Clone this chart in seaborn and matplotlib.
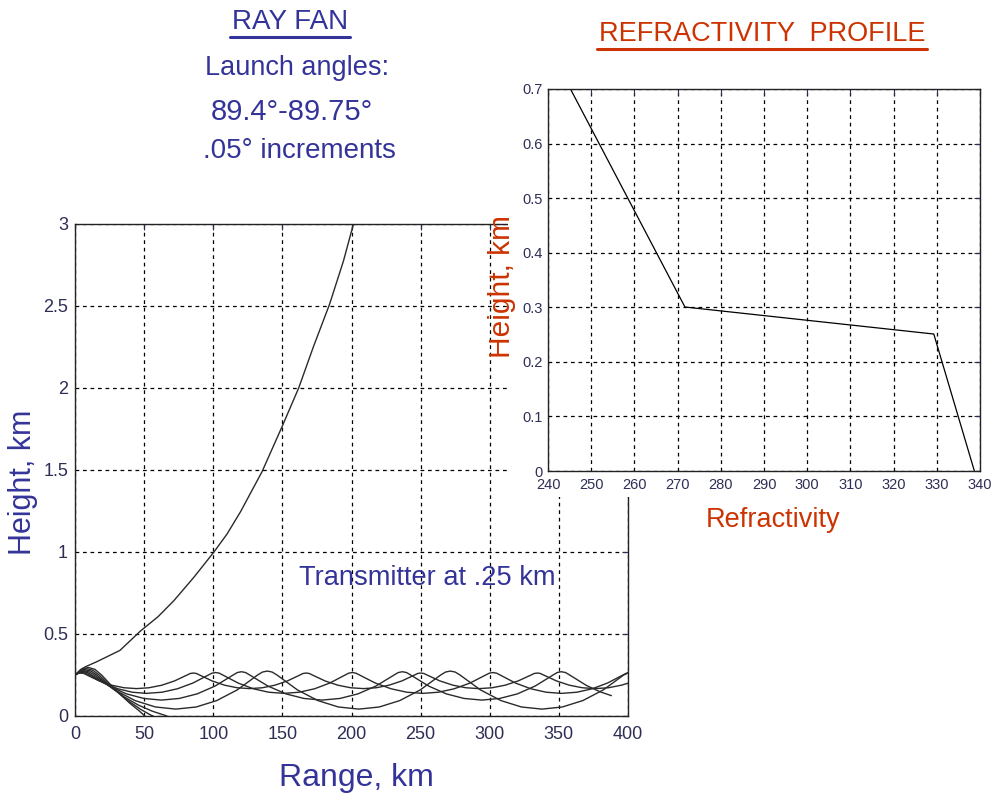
import matplotlib
matplotlib.use("Agg")
import matplotlib.pyplot as plt
from matplotlib.patches import Rectangle
from matplotlib.lines import Line2D
import seaborn as sns
import pandas as pd

# ---------------- data ----------------
# Ray fan (range km, height km), one list per launch angle
ray_escape_x = [0, 4, 7.5, 16, 32.5, 47.6, 60, 71.6, 86.1, 100.5, 110, 119.7, 135.3, 149.8, 161.8, 172.6, 184.1, 194.2, 201.4, 203]
ray_escape_y = [0.25, 0.283, 0.30, 0.332, 0.40, 0.52, 0.605, 0.704, 0.847, 1.0, 1.11, 1.245, 1.49, 1.765, 2.0, 2.255, 2.51, 2.775, 3.0, 3.05]

ray_g3_x = [0, 4.8, 9.6, 14.4, 19.2, 29.2, 39.2, 46.2, 50.5]
ray_g3_y = [0.25, 0.2845, 0.296, 0.2845, 0.25, 0.160, 0.081, 0.033, 0.0]
ray_g2_x = [0, 4.35, 8.7, 13.05, 17.4, 27.4, 37.4, 47.4, 54.9, 56.5]
ray_g2_y = [0.25, 0.2785, 0.288, 0.2785, 0.25, 0.169, 0.099, 0.041, 0.005, 0.0]
ray_g1_x = [0, 3.9, 7.8, 11.8, 15.7, 25.7, 35.7, 45.7, 55.7, 66.5]
ray_g1_y = [0.25, 0.273, 0.281, 0.273, 0.25, 0.177, 0.116, 0.067, 0.030, 0.0]

ray_d_x = [0, 3.5, 7, 10.5, 14, 28.7, 43.45, 58.2, 72.9, 87.7, 102.5, 117.3, 132.1, 135.6, 139.1, 142.6, 146.1,
           160.9, 175.7, 190.5, 205.3, 220.1, 234.9, 249.7, 264.5, 268.0, 271.5, 275.0, 278.5,
           293.3, 308.1, 322.9, 337.7, 352.5, 367.3, 382.1, 396.9, 400]
ray_d_y = [0.25, 0.268, 0.274, 0.268, 0.25, 0.159, 0.094, 0.055, 0.042, 0.055, 0.094, 0.159, 0.25, 0.268, 0.274, 0.268, 0.25,
           0.159, 0.094, 0.055, 0.042, 0.055, 0.094, 0.159, 0.25, 0.268, 0.274, 0.268, 0.25,
           0.159, 0.094, 0.055, 0.042, 0.055, 0.094, 0.159, 0.25, 0.262]

ray_c_x = [0, 3, 6, 9, 12, 24.6, 37.2, 49.8, 62.4, 75.4, 88.4, 101.4, 114.4, 117.4, 120.4, 123.4, 126.4,
           139.45, 152.5, 165.55, 178.6, 191.65, 204.7, 217.75, 230.8, 233.8, 236.8, 239.8, 242.8,
           255.7, 268.55, 281.4, 294.3, 307.2, 320.05, 332.9, 345.8, 348.8, 351.8, 354.8, 357.8,
           370, 380, 388]
ray_c_y = [0.25, 0.265, 0.27, 0.265, 0.25, 0.183, 0.135, 0.107, 0.097, 0.107, 0.135, 0.183, 0.25, 0.265, 0.27, 0.265, 0.25,
           0.183, 0.135, 0.107, 0.097, 0.107, 0.135, 0.183, 0.25, 0.265, 0.27, 0.265, 0.25,
           0.183, 0.135, 0.107, 0.097, 0.107, 0.135, 0.183, 0.25, 0.265, 0.27, 0.265, 0.25,
           0.186, 0.147, 0.124]

ray_b_x = [0, 2.6, 5.2, 7.8, 10.4, 20.7, 31.05, 41.4, 51.7, 62.9, 74.1, 85.3, 96.5, 99.1, 101.7, 104.3, 106.9,
           118.0, 129.0, 140.1, 151.15, 162.2, 173.3, 184.3, 195.4, 198.0, 200.6, 203.2, 205.8,
           217.2, 228.6, 240.0, 251.45, 262.9, 274.3, 285.7, 297.1, 299.7, 302.3, 304.9, 307.5,
           318.6, 329.7, 340.8, 351.9, 363.0, 374.1, 385.2, 396.3, 398.9, 400]
ray_b_y = [0.25, 0.2613, 0.265, 0.2613, 0.25, 0.201, 0.166, 0.145, 0.138, 0.145, 0.166, 0.201, 0.25, 0.2613, 0.265, 0.2613, 0.25,
           0.201, 0.166, 0.145, 0.138, 0.145, 0.166, 0.201, 0.25, 0.2613, 0.265, 0.2613, 0.25,
           0.201, 0.166, 0.145, 0.138, 0.145, 0.166, 0.201, 0.25, 0.2613, 0.265, 0.2613, 0.25,
           0.201, 0.166, 0.145, 0.138, 0.145, 0.166, 0.201, 0.25, 0.2613, 0.263]

ray_a_x = [0, 2.15, 4.3, 6.45, 8.6, 17.5, 26.5, 35.5, 44.5, 53.5, 62.8, 71.95, 81.1, 83.35, 85.6, 87.85, 90.1,
           99.2, 108.25, 117.3, 126.4, 135.5, 144.55, 153.6, 162.7, 164.95, 167.2, 169.45, 171.7,
           180.9, 190.2, 199.4, 208.65, 217.9, 227.1, 236.4, 245.6, 247.85, 250.1, 252.35, 254.6,
           264.0, 273.4, 282.8, 292.25, 301.7, 311.1, 320.5, 329.9, 332.15, 334.4, 336.65, 338.9,
           348.3, 357.6, 367.0, 376.4, 385.8, 395.2, 400]
ray_a_y = [0.25, 0.2593, 0.262, 0.2593, 0.25, 0.2137, 0.1878, 0.1722, 0.167, 0.1722, 0.1878, 0.2137, 0.25, 0.2593, 0.262, 0.2593, 0.25,
           0.2137, 0.1878, 0.1722, 0.167, 0.1722, 0.1878, 0.2137, 0.25, 0.2593, 0.262, 0.2593, 0.25,
           0.2137, 0.1878, 0.1722, 0.167, 0.1722, 0.1878, 0.2137, 0.25, 0.2593, 0.262, 0.2593, 0.25,
           0.2137, 0.1878, 0.1722, 0.167, 0.1722, 0.1878, 0.2137, 0.25, 0.2593, 0.262, 0.2593, 0.25,
           0.2137, 0.1878, 0.1722, 0.167, 0.1722, 0.1878, 0.2000]

# Refractivity profile
refractivity = [338.7, 329.3, 271.7, 245.2]
profile_height = [0.0, 0.251, 0.3005, 0.7]

range_ticks = [0, 50, 100, 150, 200, 250, 300, 350, 400]
height_ticks = [0, 0.5, 1, 1.5, 2, 2.5, 3]
height_tick_labels = ["0", "0.5", "1", "1.5", "2", "2.5", "3"]
refr_ticks = [240, 250, 260, 270, 280, 290, 300, 310, 320, 330, 340]
prof_ticks = [0, 0.1, 0.2, 0.3, 0.4, 0.5, 0.6, 0.7]
prof_tick_labels = ["0", "0.1", "0.2", "0.3", "0.4", "0.5", "0.6", "0.7"]

# ---------------- style ----------------
sns.set_theme(style="white")
FONT = ["Liberation Sans", "DejaVu Sans"]
plt.rcParams["font.family"] = FONT
NAVY = "#333399"
RED = "#cc3300"
TICKC = "#2e2e55"
GRID = dict(color="black", linestyle=(0, (3, 3)), linewidth=0.9)

W, H = 992, 797
fig = plt.figure(figsize=(W / 100, H / 100), dpi=100)
fig.patch.set_facecolor("white")

def fx(px):
    return px / W

def fy(py):
    return 1 - py / H

# ---------------- left: ray fan ----------------
axL = fig.add_axes([fx(75), fy(716), fx(628) - fx(75), fy(224) - fy(716)])
axL.set_zorder(1)
rays = [
    ("escape", ray_escape_x, ray_escape_y),
    ("g3", ray_g3_x, ray_g3_y),
    ("g2", ray_g2_x, ray_g2_y),
    ("g1", ray_g1_x, ray_g1_y),
    ("d", ray_d_x, ray_d_y),
    ("c", ray_c_x, ray_c_y),
    ("b", ray_b_x, ray_b_y),
    ("a", ray_a_x, ray_a_y),
]
frames = [pd.DataFrame({"range": xs, "height": ys, "ray": name}) for name, xs, ys in rays]
df = pd.concat(frames, ignore_index=True)
sns.lineplot(data=df, x="range", y="height", units="ray", estimator=None, sort=False,
             color="#2a2a2a", linewidth=1.0, ax=axL, legend=False)
axL.set_xlim(0, 400)
axL.set_ylim(0, 3)
axL.set_xticks(range_ticks)
axL.set_xticklabels([str(t) for t in range_ticks])
axL.set_yticks(height_ticks)
axL.set_yticklabels(height_tick_labels)
axL.grid(True, **GRID)
axL.set_xlabel("")
axL.set_ylabel("")
for s in axL.spines.values():
    s.set_color("#222222")
    s.set_linewidth(1.0)
axL.tick_params(axis="both", labelsize=13, colors=TICKC, direction="in", length=4,
                top=True, right=True, width=0.8)
axL.tick_params(axis="x", pad=7)
axL.tick_params(axis="y", pad=5)

# white cover behind the right panel
cover = Rectangle((fx(508), fy(497)), fx(992) - fx(508), fy(58) - fy(497),
                  transform=fig.transFigure, facecolor="white", edgecolor="none", zorder=2)
fig.add_artist(cover)

# ---------------- right: refractivity profile ----------------
axR = fig.add_axes([fx(548), fy(471), fx(980) - fx(548), fy(89) - fy(471)])
axR.set_zorder(3)
sns.lineplot(x=refractivity, y=profile_height, sort=False, estimator=None,
             color="black", linewidth=0.9, ax=axR)
axR.set_xlim(240, 340)
axR.set_ylim(0, 0.7)
axR.set_xticks(refr_ticks)
axR.set_xticklabels([str(t) for t in refr_ticks])
axR.set_yticks(prof_ticks)
axR.set_yticklabels(prof_tick_labels)
axR.grid(True, **GRID)
for s in axR.spines.values():
    s.set_color("#222222")
    s.set_linewidth(1.0)
axR.tick_params(axis="both", labelsize=10.5, colors=TICKC, direction="in", length=4,
                top=True, right=True, width=0.8)
axR.tick_params(axis="x", pad=5)
axR.tick_params(axis="y", pad=4)

# ---------------- text ----------------
def underlined(x, y, s, color, size):
    t = fig.text(fx(x), fy(y), s, color=color, fontsize=size, ha="center", va="center",
                 family=FONT, zorder=5)
    fig.canvas.draw()
    bb = t.get_window_extent()
    inv = fig.transFigure.inverted()
    (x0, y0), (x1, y1) = inv.transform([[bb.x0, bb.y0], [bb.x1, bb.y1]])
    fig.add_artist(Line2D([x0 - 0.002, x1 + 0.002], [y0 - 0.002, y0 - 0.002], color=color,
                          linewidth=2.2, transform=fig.transFigure, zorder=5))
    return t

underlined(290, 22, "RAY FAN", NAVY, 20)
underlined(762, 34, "REFRACTIVITY  PROFILE", RED, 19.5)

fig.text(fx(297), fy(68), "Launch angles:", color=NAVY, fontsize=19.5, ha="center", va="center", zorder=5)
fig.text(fx(292), fy(112), "89.4°-89.75°", color=NAVY, fontsize=21, ha="center", va="center", zorder=5)
fig.text(fx(299), fy(151), ".05° increments", color=NAVY, fontsize=20, ha="center", va="center", zorder=5)

fig.text(fx(23), fy(482), "Height, km", color=NAVY, fontsize=22, ha="center", va="center",
         rotation=90, zorder=5)
fig.text(fx(356), fy(778), "Range, km", color=NAVY, fontsize=23, ha="center", va="center", zorder=5)
fig.text(fx(427), fy(578), "Transmitter at .25 km", color=NAVY, fontsize=19.6, ha="center", va="center", zorder=5)

fig.text(fx(773), fy(520), "Refractivity", color=RED, fontsize=19.5, ha="center", va="center", zorder=5)
fig.text(fx(502), fy(286), "Height, km", color=RED, fontsize=21.5, ha="center", va="center",
         rotation=90, zorder=6)

fig.savefig("out.png", dpi=100, facecolor="white")
